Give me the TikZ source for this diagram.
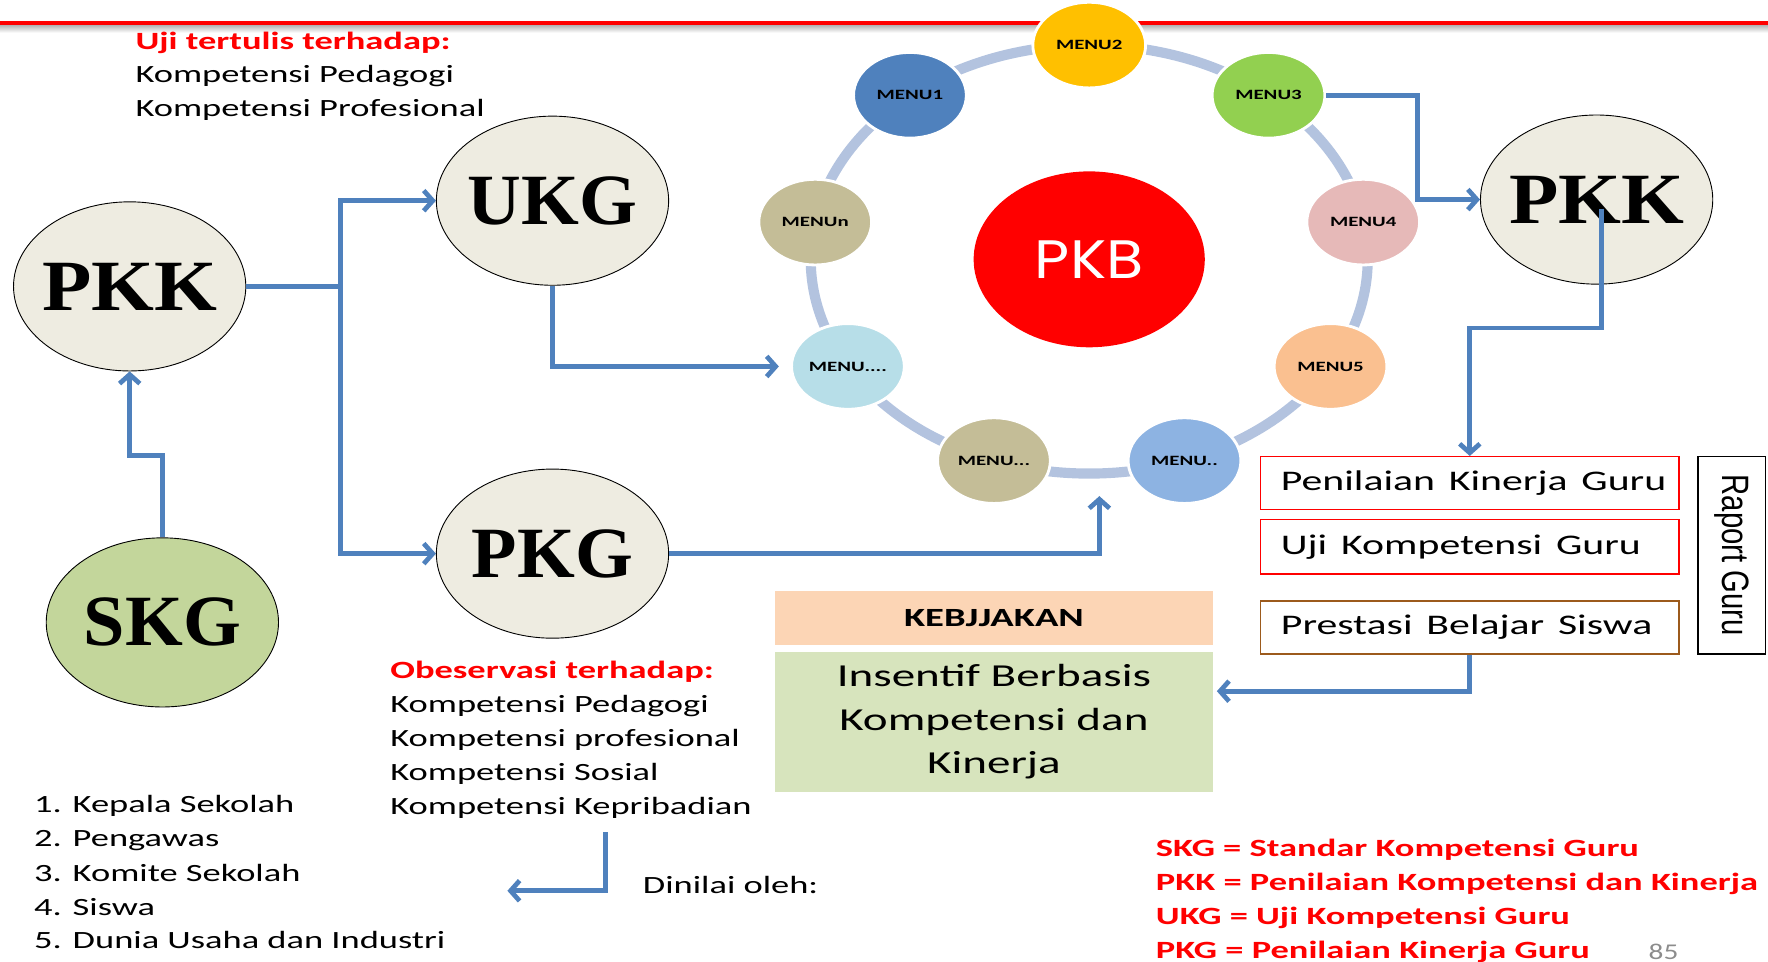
\documentclass[tikz,border=0pt]{standalone}
\usepackage{fontspec}
\usepackage{graphicx}
\setmainfont{Carlito}
\newfontfamily\serifbf{Liberation Serif}
\newfontfamily\arialfam{Liberation Sans}
\newfontfamily\pkbfam{Poppins}
\usetikzlibrary{shapes.geometric,arrows.meta}

\definecolor{cblue}{HTML}{4F81BD}
\definecolor{beige}{HTML}{EEECE1}
\definecolor{skggreen}{HTML}{C3D69B}
\definecolor{ringc}{HTML}{B3C3DF}
\definecolor{mblue}{HTML}{4F81BD}
\definecolor{myellow}{HTML}{FFC000}
\definecolor{mgreen}{HTML}{92D050}
\definecolor{mtan}{HTML}{C4BD97}
\definecolor{mpink}{HTML}{E6B9B8}
\definecolor{mlblue}{HTML}{B7DEE8}
\definecolor{mpeach}{HTML}{FAC090}
\definecolor{mblue2}{HTML}{8DB3E2}
\definecolor{kebfill}{HTML}{FCD5B5}
\definecolor{insfill}{HTML}{D7E4BD}
\definecolor{brownb}{HTML}{9C5A1C}
\definecolor{pagegray}{HTML}{8C8C8C}

% horizontal stretch used for all Carlito text
\newcommand\wide[1]{\scalebox{1.47}[1]{#1}}
% big ellipse label: stretched, with no width of its own so the shape keeps its size
\newcommand\biglabel[2]{\makebox[0pt]{\scalebox{#1}[1]{#2}}}

\begin{document}
\begin{tikzpicture}[x=1pt,y=-1pt,
  bigell/.style={ellipse, draw=black, line width=0.8pt, fill=beige,
    minimum width=206pt, minimum height=150pt, inner sep=0pt,
    font=\serifbf\bfseries\fontsize{64}{64}\selectfont},
  menu/.style={ellipse, draw=white, line width=2.5pt,
    minimum width=100pt, minimum height=76pt, inner sep=0pt,
    font=\bfseries\fontsize{12.6}{14}\selectfont},
  conn/.style={draw=cblue, line width=4.2pt,
    -{Straight Barb[length=8pt,width=18pt]}},
  plainconn/.style={draw=cblue, line width=4.2pt},
  txt/.style={anchor=base west, inner sep=0pt, font=\fontsize{22}{30}\selectfont},
  redtxt/.style={txt, text=red, font=\bfseries\fontsize{22}{30}\selectfont},
  infobox/.style={rectangle, line width=1.2pt, minimum width=371pt,
    minimum height=47pt, inner xsep=18pt, text width=335pt, align=left,
    font=\fontsize{25.2}{30}\selectfont}
]
\useasboundingbox (0,0) rectangle (1568,853);
\clip (0,0) rectangle (1568,853);

% header rule with its soft shadow
\shade[top color=black!35, bottom color=white] (0,21) rectangle (1568,29);
\draw[red, line width=3.5pt] (0,20) -- (1568,20);

% written test note
\node[redtxt] (ujih) at (120,44) {\wide{Uji tertulis terhadap:}};
\node[txt] (uji1) at (120,73.5) {\wide{Kompetensi Pedagogi}};
\node[txt] (uji2) at (120,103) {\wide{Kompetensi Profesional}};

% main ellipses
\node[bigell] (pkkL) at (115,254) {\biglabel{1.12}{PKK}};
\node[bigell] (ukg) at (490,178) {\biglabel{1.03}{UKG}};
\node[bigell] (pkg) at (490,491) {\biglabel{1.03}{PKG}};
\node[bigell, fill=skggreen] (skg) at (144,552) {\biglabel{1.03}{SKG}};
\node[bigell] (pkkR) at (1416,177) {\biglabel{1.12}{PKK}};

% ring of PKB menus
\draw[ringc, line width=9pt] (966,230) ellipse [x radius=247, y radius=190];
\node[ellipse, fill=red, minimum width=205pt, minimum height=156pt, inner sep=0pt,
  text=white, font=\pkbfam\fontsize{48}{48}\selectfont] (pkb) at (966,230)
  {\biglabel{1.12}{PKB}};

\node[menu, fill=myellow] (m2) at (966,40) {\wide{MENU2}};
\node[menu, fill=mblue] (m1) at (807,84.5) {\wide{MENU1}};
\node[menu, fill=mgreen] (m3) at (1125,84.5) {\wide{MENU3}};
\node[menu, fill=mtan] (mn) at (723,197) {\wide{MENUn}};
\node[menu, fill=mpink] (m4) at (1209,197) {\wide{MENU4}};
\node[menu, fill=mlblue] (m7) at (752,325) {\wide{MENU....}};
\node[menu, fill=mpeach] (m5) at (1180,325) {\wide{MENU5}};
\node[menu, fill=mtan] (m8) at (881.5,408.5) {\wide{MENU...}};
\node[menu, fill=mblue2] (m6) at (1050.5,408.5) {\wide{MENU..}};

% assessment boxes and report
\node[infobox, draw=red] (b1) at (1303.5,428.5) {\wide{Penilaian Kinerja Guru}};
\node[infobox, draw=red, minimum height=48pt] (b2) at (1303.5,485) {\wide{Uji Kompetensi Guru}};
\node[infobox, draw=brownb] (b3) at (1303.5,556.5) {\wide{Prestasi Belajar Siswa}};
\node[rectangle, draw=black, line width=1.2pt, minimum width=60pt, minimum height=175pt,
  inner sep=0pt] (raport) at (1536,492.5) {};
\node[rotate=-90, inner sep=0pt, font=\arialfam\fontsize{26}{26}\selectfont]
  (raporttxt) at (raport.center) {\scalebox{1}[1.3]{Raport Guru}};

% policy boxes
\node[rectangle, fill=kebfill, minimum width=389pt, minimum height=48pt, inner sep=0pt,
  font=\bfseries\fontsize{23.3}{28}\selectfont] (keb) at (881.5,548) {\wide{KEBJJAKAN}};
\node[rectangle, fill=insfill, minimum width=389pt, minimum height=124pt, inner sep=0pt,
  align=center, font=\fontsize{28.4}{38.5}\selectfont] (ins) at (881.5,640)
  {\wide{Insentif Berbasis}\\\wide{Kompetensi dan}\\\wide{Kinerja}};

% observation note
\node[redtxt] (obsh) at (346,602) {\wide{Obeservasi terhadap:}};
\node[txt] (obs1) at (346,632) {\wide{Kompetensi Pedagogi}};
\node[txt] (obs2) at (346,662) {\wide{Kompetensi profesional}};
\node[txt] (obs3) at (346,692) {\wide{Kompetensi Sosial}};
\node[txt] (obs4) at (346,722) {\wide{Kompetensi Kepribadian}};

% assessors
\node[txt] (l1) at (30,721) {\wide{1. Kepala Sekolah}};
\node[txt] (l2) at (30,751) {\wide{2. Pengawas}};
\node[txt] (l3) at (30,782) {\wide{3. Komite Sekolah}};
\node[txt] (l4) at (30,812) {\wide{4. Siswa}};
\node[txt] (l5) at (30,841) {\wide{5. Dunia Usaha dan Industri}};
\node[txt] (din) at (570,792) {\wide{Dinilai oleh:}};

% legend
\node[redtxt] (lg1) at (1025,760) {\wide{SKG = Standar Kompetensi Guru}};
\node[redtxt] (lg2) at (1025,790) {\wide{PKK = Penilaian Kompetensi dan Kinerja}};
\node[redtxt] (lg3) at (1025,820) {\wide{UKG = Uji Kompetensi Guru}};
\node[redtxt] (lg4) at (1025,850) {\wide{PKG = Penilaian Kinerja Guru}};
\node[txt, text=pagegray, font=\fontsize{20}{22}\selectfont] (pgno) at (1462,851) {\scalebox{1.3}[1]{85}};

% connectors
\coordinate (split) at (302,254);
\draw[plainconn] (pkkL.east) -- (split);
\draw[conn] (split) |- (ukg.west);
\draw[conn] (split) |- (pkg.west);

\coordinate (skgbend) at (144,404);
\draw[conn] (skg.north) -- (skgbend) -| (pkkL.south);

\draw[conn, shorten >=10pt] (ukg.south) |- (m7.west);

\coordinate (pkbin) at (975,440);
\draw[conn] (pkg.east) -| (pkbin);

\coordinate (m3bend) at (1257,130);
\draw[conn] (m3.east) -| (m3bend) |- (pkkR.west);

\coordinate (pkkRsrc) at (1420,185);
\coordinate (pkkRbend) at (1420,291);
\draw[conn] (pkkRsrc) -- (pkkRbend) -| (b1.north);

\draw[conn, shorten >=3pt] (b3.south) |- (ins.east |- 0,613);

\coordinate (d1) at (537,738);
\coordinate (d2) at (450,790);
\draw[conn] (d1) |- (d2);
\end{tikzpicture}
\end{document}
